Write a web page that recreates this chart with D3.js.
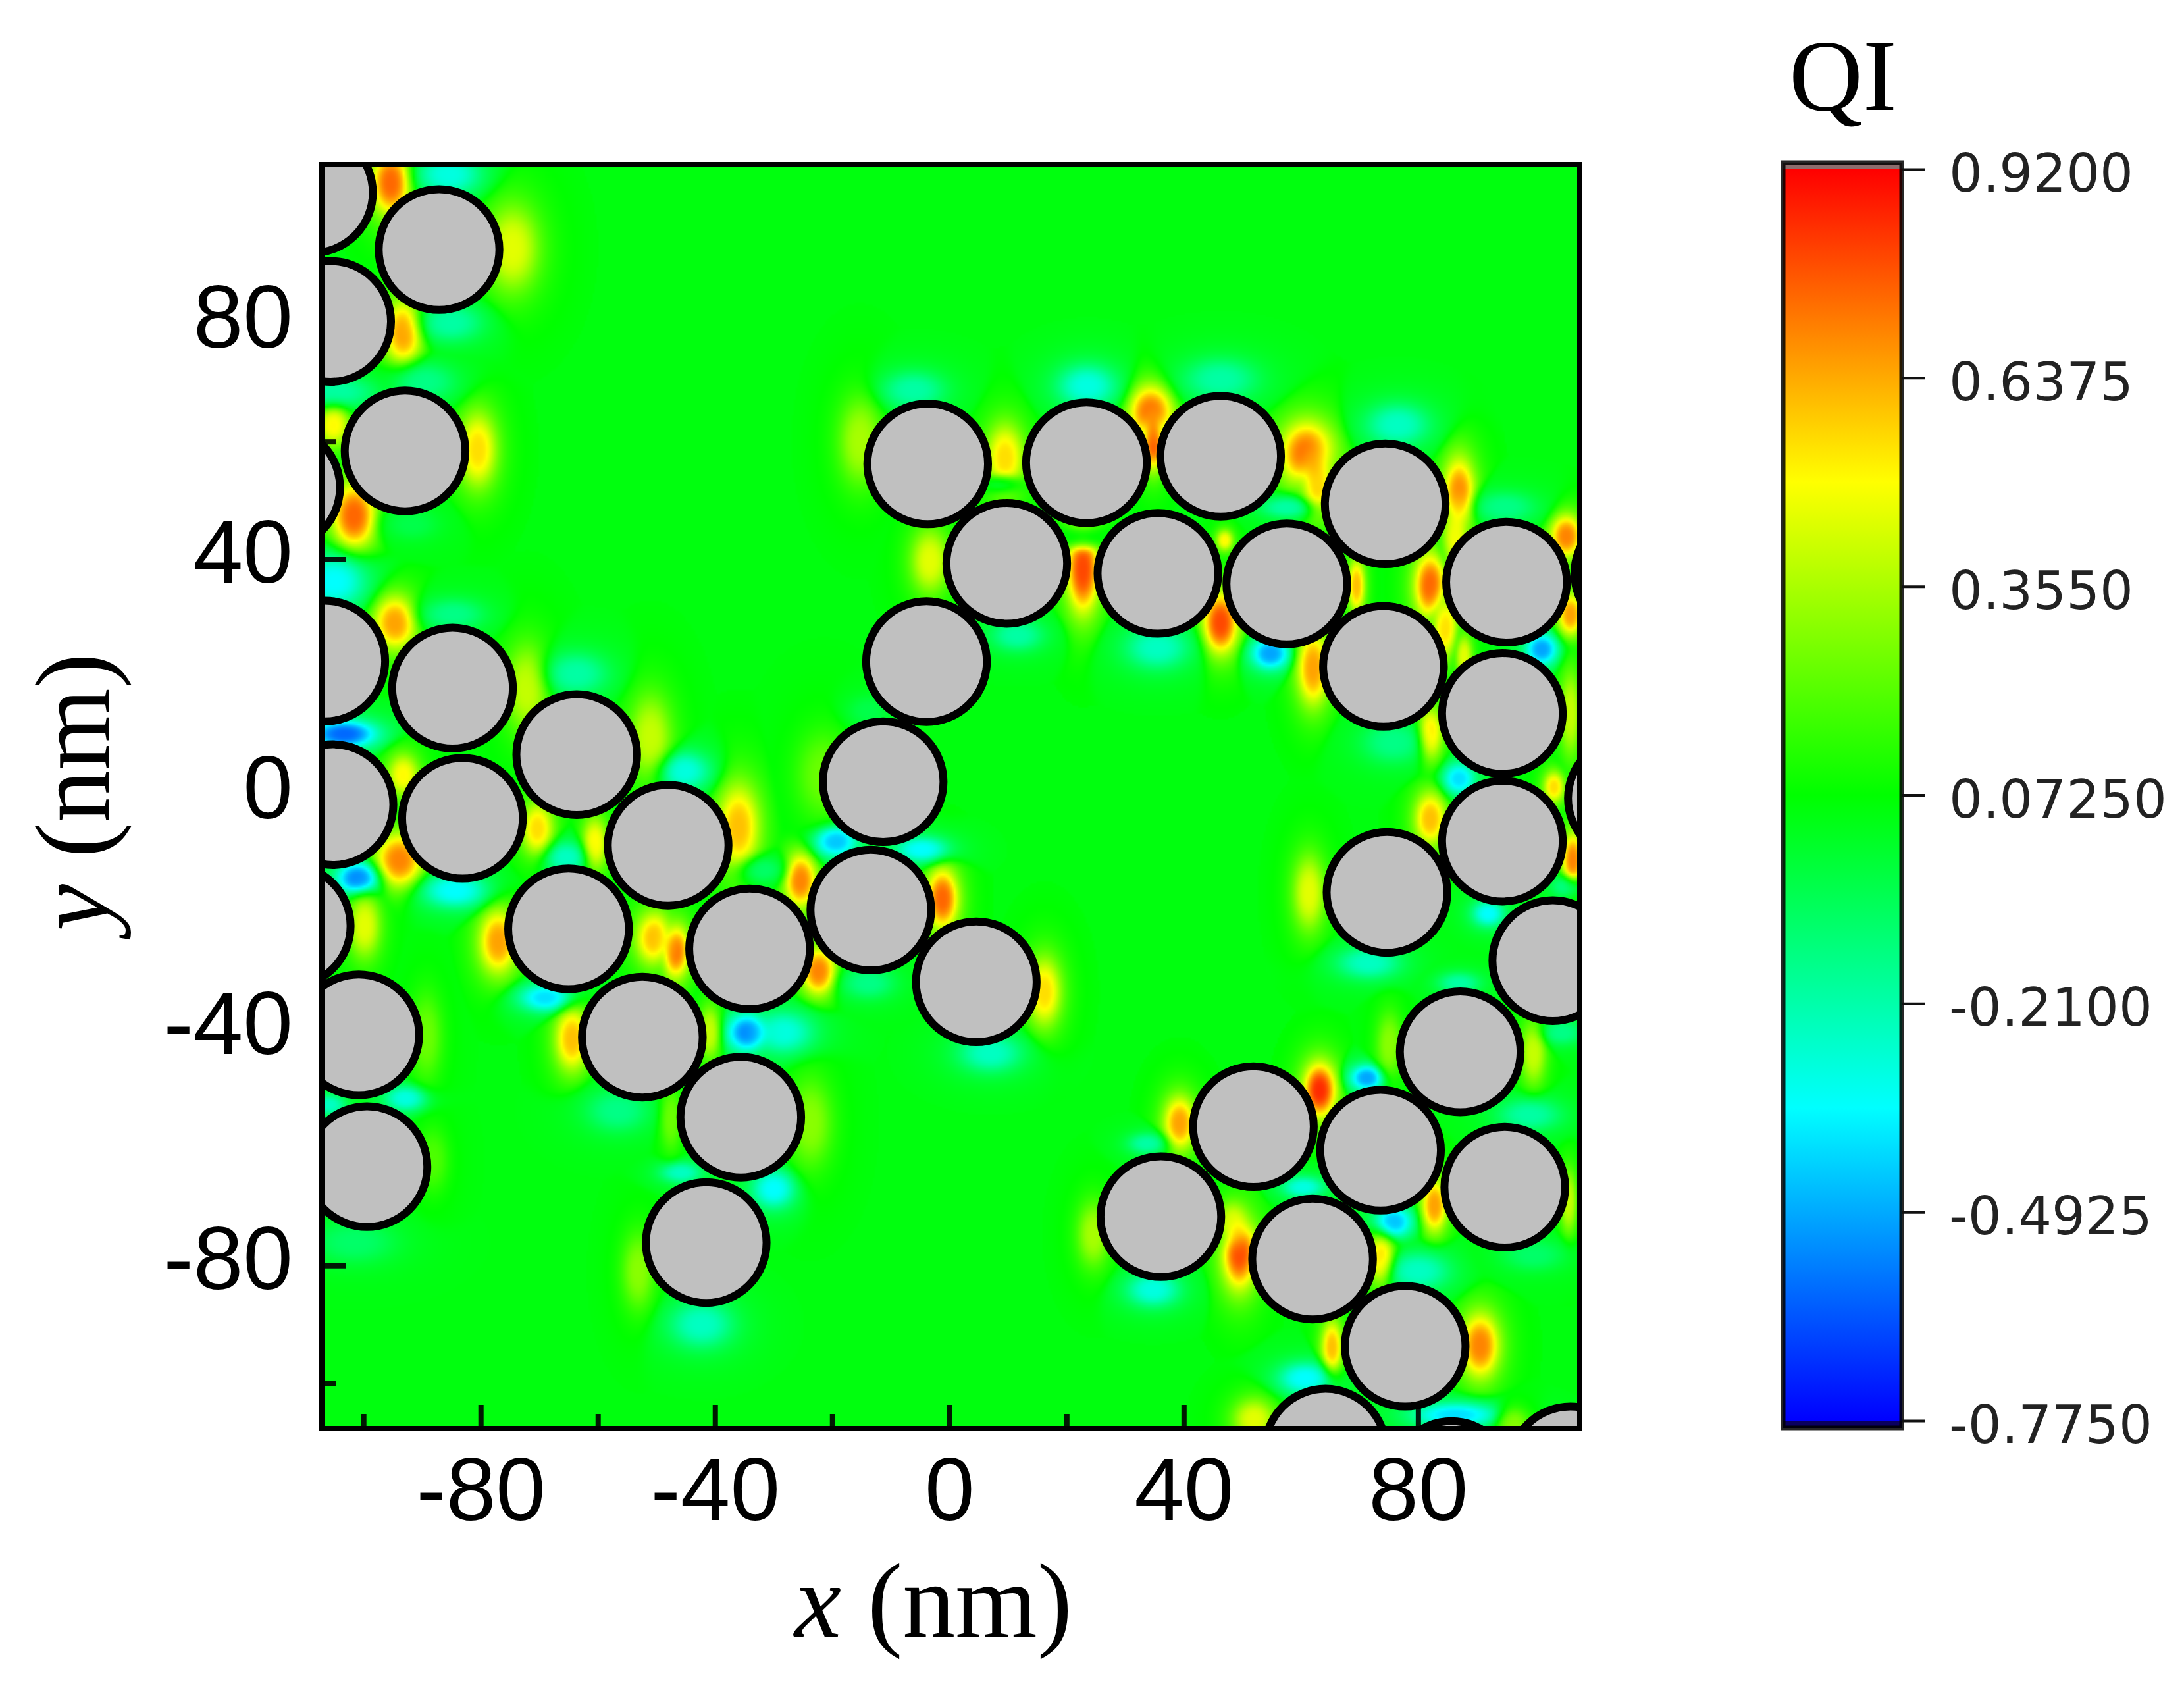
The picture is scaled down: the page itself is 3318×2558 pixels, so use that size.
<!DOCTYPE html>
<html><head><meta charset="utf-8">
<script src="https://cdnjs.cloudflare.com/ajax/libs/d3/7.8.5/d3.min.js"></script>
<style>html,body{margin:0;background:#fff}svg{display:block}</style></head>
<body><svg id="c" width="3318" height="2558" xmlns="http://www.w3.org/2000/svg"></svg>
<script>
// particle centres (nm)
const particleX=[-108.7,-87.1,-105.6,-92.9,-114.3,-84.8,-106.6,-105.2,-83.1,-63.6,-48.0,-65.0,-34.1,-13.4,-11.3,-3.9,-3.7,9.8,23.4,46.3,35.6,57.6,74.4,74.1,95.1,94.4,94.4,117.0,115.9,74.7,103.0,87.2,51.9,73.6,94.8,36.1,62.0,77.8,64.2,85.7,106.0,4.6,-112.5,-100.8,-99.4,-52.4,-35.6,-41.5];
const particleY=[102.3,92.6,80.4,58.4,52.2,18.1,22.7,-1.7,-4.0,6.8,-8.6,-22.8,-26.2,-19.6,2.2,22.6,56.2,39.3,56.4,57.5,37.6,35.8,49.4,21.8,36.1,13.8,-7.9,37.6,-0.6,-16.6,-28.2,-43.7,-56.4,-60.4,-66.7,-71.7,-78.9,-93.7,-111.2,-116.7,-114.2,-31.8,-22.3,-40.8,-63.2,-41.2,-54.8,-76.1];
const particleRadius=10.3;
// QI field: local extrema (nm, peak QI, half-widths nm)
const fieldBackground=0.05;
const extremaX=[-95.3,-85.4,-74.6,-85.1,-93.2,-89.6,-105.1,-105.1,-80.5,-101.6,-91.7,-105.1,-94.6,-84.7,-72.1,-63.7,-103.3,-93.2,-51,-45.4,-15.2,-6.1,-3.3,-13.8,-21.5,-36,-93.9,-100.9,-84.4,-99.8,-70.3,-65.4,-60.5,-77,-68.9,-50.3,-46.8,-32,-25.4,-19.4,-4.7,-1.2,-22.3,-13.8,-34.2,-28.6,-64.4,-40.9,-56.6,-92.8,-105.8,-89.3,-88.2,-101.6,-45.8,-30,-53.1,-42.3,-23.7,-47.5,23.5,34.4,34.8,46.3,9.5,9.1,22.8,22.8,11.6,35.5,46.3,54.8,61.1,62.8,76.5,57.6,87,86.4,82.1,84.6,69.5,62.1,94.8,105.3,106,101.1,75.8,82.1,106,87,103.2,47,87.8,82.1,106.4,105.3,61.4,92,71.6,16.2,7,87,99.7,104.6,75.1,39.3,33.7,63.2,71.3,99,60.4,82.8,75.8,49.5,48.4,24.6,34.8,73.7,80,99.7,105.7,65.3,90.6,60.7,86.4,52,96.2];
const extremaY=[104,105.4,92.8,80.2,78.5,70.1,68.4,62.8,58.6,47.4,46,36.2,29.2,30.6,18,20.5,10.3,3.3,9.6,4,60,68.7,39.7,14.2,3.3,-5.5,-11.1,-14.2,-16.3,-22.3,-5.8,-10.7,-8.3,-25,-34.5,-24.4,-26.5,-12.8,-14.6,-7.9,-9.3,-17.7,-30,-32,-40.4,-40.4,-41.5,-40.4,-53.7,-51.6,-52.7,-41.1,-62.1,-76,-64.2,-67,-81,-90,-55.8,-55.1,69.4,64.9,60,70.5,57.2,52.9,38.3,43.5,27.1,25,29.2,24,57.9,53,62.8,48.8,50.9,43.9,35.5,28.5,35.5,21.5,48.8,43.9,30.6,24.7,8.9,10.3,13.8,2.7,1.3,43.2,23.6,-4.1,-11.1,-15.6,-16.7,-20.2,-28.6,-33.5,-43.9,-32,-43.9,-40.4,-42.5,-55.8,-59.3,-50.2,-48.1,-54.4,-66.7,-69.8,-72.6,-77.5,-72.6,-74.7,-84.1,-78.9,-81,-78.2,-69.1,-93.9,-93.6,-99.2,-105.4,-106.2,-106.8];
const extremaQI=[.75,-.3,.45,-.2,.65,-.15,-.2,.5,.55,.75,-.05,-.35,.65,-.15,.4,-.2,-.6,.5,.4,-.3,.35,-.2,.45,-.05,.25,.6,.7,-.55,-.35,.45,.55,-.25,.5,.65,-.4,.6,.75,-.1,.7,-.45,-.35,.75,.7,-.15,-.6,-.3,.6,.4,-.15,-.3,-.25,.25,.2,-.1,-.25,-.35,.3,-.25,.3,.25,-.3,.75,.8,-.2,.55,-.1,.8,-.1,-.2,-.25,.8,-.5,.75,.6,-.25,-.2,.7,.5,.75,.55,.6,.65,-.15,.7,.65,-.5,-.15,.55,.4,-.4,.55,.5,.45,.6,.7,-.15,.45,-.35,-.25,.55,-.25,-.2,.4,-.15,.3,.65,-.2,.85,-.5,-.2,-.3,.65,-.45,.8,.45,.35,-.3,.55,-.25,-.1,.4,.6,.7,-.35,-.4,.45,.3];
const extremaSx=[1.8,3,2.5,3,1.8,3,4,1.5,1.8,2,2.5,3,2,3,2,3,3,1.5,2,2.5,2,3,1.8,2,2.5,2,2.2,2,3,1.5,1.5,2,1.2,1.8,2.5,1.8,1.3,2,1.5,2,2.5,1.5,1.6,2.5,2,3,1.6,1,3,2,1.5,1.5,1.5,4,2,2,1.5,3,2,1,2.8,2,1,3.5,1.8,1.5,1.5,1.5,2.5,3,1.6,1.8,2.5,1.5,3,2.5,1.5,1.2,1.5,1.2,.8,1.5,3,1.5,1.2,1.5,3,1.2,1,1.5,1,.8,.8,1.5,1,1.5,1.5,1.5,3,1.6,3,2,1.2,2,1.2,1.5,1.8,1.5,1.6,3,2,1.2,1.8,1.6,1.5,1.5,2.5,1.3,3,3,.8,1,1.8,2.5,4,2,1.5];
const extremaSy=[3,2,4,1.8,3,1.8,1.5,2,3.5,3,1.5,2.5,2.5,1.5,4,2,1.3,2,4,1.8,4,1.8,3,1.5,4,4,2.5,1.5,1.6,3,2.5,1.5,2.5,3,1.3,2.5,2.5,1.2,2.5,1.5,1.2,2.8,2.2,1.5,1.8,2,3,2.5,2,1.2,1,4,3,2,1,1.8,3.5,2.2,4,3,2,2.5,2.5,2,3.2,.8,4,1,1.5,2,2.8,1.5,3,3,2,1,3.5,3,3,3,2.5,3.5,1.5,2,2,1.5,2,2.5,4,1.5,1.5,1,2,2.5,2.5,1,3.5,1.2,1.5,3.2,1.8,1,3,1.2,3,2.5,1,2.5,1.2,1.5,1,2.5,1.5,3.5,2,3,1.6,2.5,1.8,1.5,3,2.5,3,1.5,1.2,2,1.5];
const spreadOfExtrema=1.6;
// colour bar
const colorStops=[-0.775,-0.35125,0.0725,0.49625,0.92];
const colorNames=["#0000ff","#00ffff","#00ff00","#ffff00","#ff0000"];
const colorTicks=[0.92,0.6375,0.355,0.0725,-0.21,-0.4925,-0.775];
const colorTickLabels=["0.9200","0.6375","0.3550","0.07250","-0.2100","-0.4925","-0.7750"];
// axes
const majorTicks=[-80,-40,0,40,80];
const minorTicksX=[-100,-60,-20,20,60,100];
const minorTicksY=[-100,-60,-20,20,60,100];

const L=489,R=2400,T=250,B=2170;
const x=d3.scaleLinear().domain([-107.1,107.6]).range([L,R]);
const y=d3.scaleLinear().domain([107.05,-107.7]).range([T,B]);
const qiColor=d3.scaleLinear().domain(colorStops).range(colorNames).clamp(true);
const svg=d3.select("#c");
svg.append("defs").append("clipPath").attr("id","plot").append("rect").attr("x",L).attr("y",T).attr("width",R-L).attr("height",B-T);

// field raster
const step=3,w=Math.ceil((R-L)/step),h=Math.ceil((B-T)/step);
const cv=document.createElement("canvas");cv.width=w;cv.height=h;
const ctx=cv.getContext("2d"),img=ctx.createImageData(w,h);
for(let j=0;j<h;j++){
  const ny=y.invert(T+(j+.5)*step);
  for(let i=0;i<w;i++){
    const nx=x.invert(L+(i+.5)*step);
    let v=fieldBackground,wsum=0,amp=0;
    for(let k=0;k<extremaX.length;k++){
      const dx=(nx-extremaX[k])/(extremaSx[k]*spreadOfExtrema),dy=(ny-extremaY[k])/(extremaSy[k]*spreadOfExtrema),d=dx*dx+dy*dy;
      if(d<60){
        const r=Math.sqrt(d);
        const g=Math.exp(-1.2*d);
        const f=1/(1+Math.pow(r/1.1,3.2));
        amp+=(extremaQI[k]-fieldBackground)*f*g;wsum+=g;
      }
    }
    if(wsum>1e-7)v+=amp/wsum;
    const c=d3.rgb(qiColor(v)),o=(j*w+i)*4;
    img.data[o]=c.r;img.data[o+1]=c.g;img.data[o+2]=c.b;img.data[o+3]=255;
  }
}
ctx.putImageData(img,0,0);
svg.append("image").attr("href",cv.toDataURL("image/png")).attr("x",L).attr("y",T).attr("width",R-L).attr("height",B-T).attr("preserveAspectRatio","none");

// ticks
const tickFont=`136px "Liberation Sans"`;
function styleAxis(g,sw){g.select(".domain").remove();g.selectAll("line").attr("stroke","#000").attr("stroke-width",sw).attr("stroke-opacity",.9);g.selectAll("text").attr("fill","#000").style("font",tickFont);}
svg.append("g").attr("transform",`translate(0,${B})`).call(d3.axisBottom(x).tickValues(majorTicks).tickSize(-36).tickPadding(42).tickFormat(d3.format("d"))).call(styleAxis,8).selectAll("text").text(d=>String(d));
svg.append("g").attr("transform",`translate(0,${B})`).call(d3.axisBottom(x).tickValues(minorTicksX).tickSize(-22).tickFormat("")).call(styleAxis,8);
svg.append("g").attr("transform",`translate(${L},0)`).call(d3.axisLeft(y).tickValues(majorTicks).tickSize(-36).tickPadding(44).tickFormat(d3.format("d"))).call(styleAxis,8).selectAll("text").text(d=>String(d)).attr("dy","0.26em");
svg.append("g").attr("transform",`translate(${L},0)`).call(d3.axisLeft(y).tickValues(minorTicksY).tickSize(-22).tickFormat("")).call(styleAxis,8);

// particles
svg.append("g").attr("clip-path","url(#plot)").selectAll("circle").data(particleX).join("circle")
  .attr("cx",d=>x(d)).attr("cy",(d,i)=>y(particleY[i])).attr("r",x(particleRadius)-x(0))
  .attr("fill","#c0c0c0").attr("stroke","#000").attr("stroke-width",12);
svg.append("rect").attr("x",L).attr("y",T).attr("width",R-L).attr("height",B-T).attr("fill","none").attr("stroke","#000").attr("stroke-width",8);

// axis titles
function title(sel,pre){sel.attr("font-family","Liberation Serif").attr("font-size",160).attr("fill","#000").attr("text-anchor","middle");sel.append("tspan").attr("font-style","italic").text(pre);sel.append("tspan").text(" (nm)");}
svg.append("text").attr("x",1418).attr("y",2486).call(title,"x");
svg.append("text").attr("transform","translate(165,1203) rotate(-90)").call(title,"y");

// colour bar
const CL=2709,CR=2889,CT=247,CB=2169;
const cy=d3.scaleLinear().domain([-0.775,0.92]).range([2158,257]);
const grad=svg.select("defs").append("linearGradient").attr("id","cb").attr("x1",0).attr("x2",0).attr("y1",0).attr("y2",1).attr("gradientUnits","objectBoundingBox");
grad.selectAll("stop").data(colorStops.slice().reverse()).join("stop").attr("offset",d=>(cy(d)-cy(.92))/(cy(-.775)-cy(.92))).attr("stop-color",d=>qiColor(d));
svg.append("rect").attr("x",CL).attr("y",cy(.92)).attr("width",CR-CL).attr("height",cy(-.775)-cy(.92)).attr("fill","url(#cb)");
svg.append("rect").attr("x",CL).attr("y",CT).attr("width",CR-CL).attr("height",cy(.92)-CT).attr("fill","#8c6d6d");
svg.append("rect").attr("x",CL).attr("y",cy(-.775)).attr("width",CR-CL).attr("height",CB-cy(-.775)).attr("fill","#0a0060");
svg.append("rect").attr("x",CL).attr("y",CT).attr("width",CR-CL).attr("height",CB-CT).attr("fill","none").attr("stroke","#000").attr("stroke-opacity",.85).attr("stroke-width",7);
svg.append("g").attr("transform",`translate(${CR},0)`).call(d3.axisRight(cy).tickValues(colorTicks).tickSize(36).tickPadding(36).tickFormat((d,i)=>colorTickLabels[i]))
  .call(g=>{g.select(".domain").remove();g.selectAll("line").attr("stroke","#111").attr("stroke-width",4);g.selectAll("text").attr("fill","#222").attr("dy","0.42em").style("font",'80px "DejaVu Sans"');});
svg.append("text").attr("x",2718).attr("y",167).attr("font-family","Liberation Serif").attr("font-size",155).attr("fill","#000").text("QI");
</script></body></html>
